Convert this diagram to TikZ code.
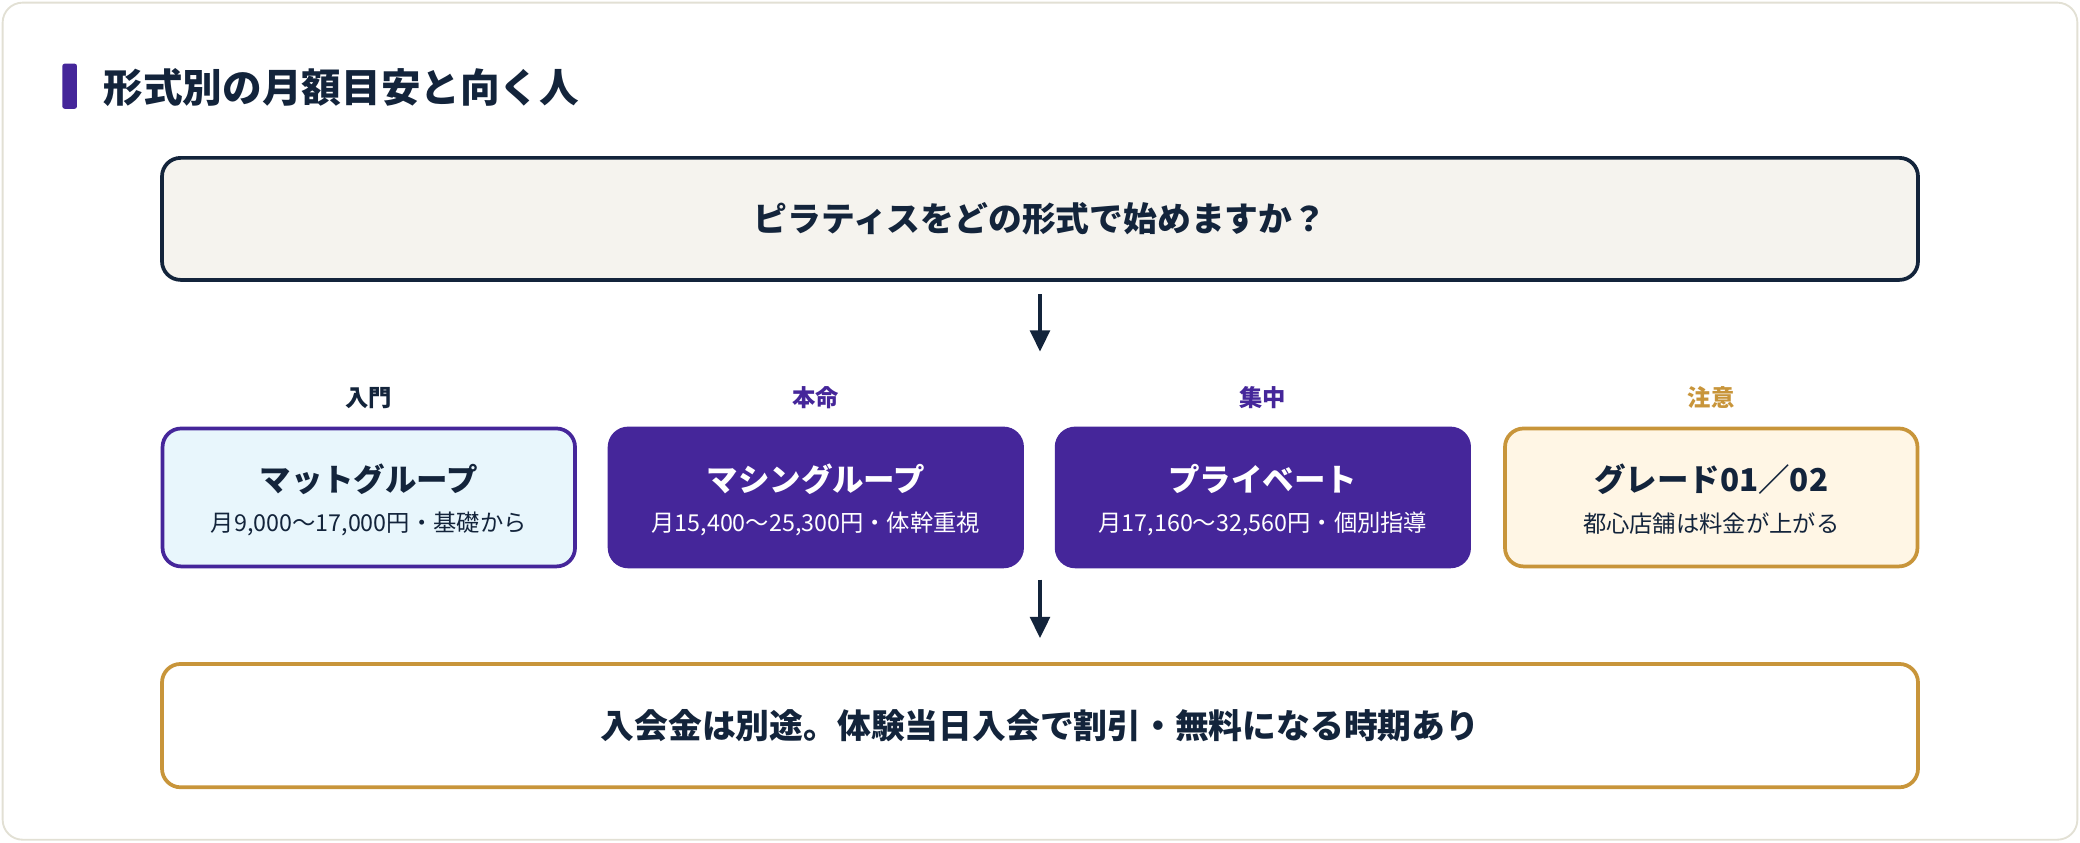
\documentclass[tikz,border=0pt]{standalone}
\usepackage{fontspec}
\setmainfont{Noto Sans CJK JP}
\usetikzlibrary{arrows.meta,positioning}
\definecolor{navy}{HTML}{13243B}
\definecolor{violet}{HTML}{45269A}
\definecolor{gold}{HTML}{C8953A}
\definecolor{paper}{HTML}{F5F3EE}
\definecolor{icy}{HTML}{E8F6FC}
\definecolor{cream}{HTML}{FFF6E5}
\definecolor{edge}{HTML}{E2E0D4}

\begin{document}
\begin{tikzpicture}[x=0.02cm,y=-0.02cm,
  panel/.style={draw, line width=1.6pt, rounded corners=0.28cm, inner sep=0pt},
  plan/.style={panel, minimum width=6.22cm, minimum height=2.08cm},
  tag/.style={font=\fontsize{10}{12}\selectfont\bfseries},
  head/.style={font=\fontsize{13.5}{16}\selectfont\bfseries},
  note/.style={font=\fontsize{10}{12}\selectfont},
  flow/.style={navy, line width=1.4pt, -{Triangle[length=0.32cm,width=0.3cm]}}]

  \useasboundingbox (0,0) rectangle (1568,635);

  % frame
  \draw[edge, fill=white, line width=0.8pt, rounded corners=0.3cm] (2,2) rectangle (1566,633);

  % title
  \fill[violet, rounded corners=1pt] (47,48) rectangle (58,82);
  \node[anchor=west, navy, font=\fontsize{17}{20}\selectfont\bfseries] (title) at (72,66) {形式別の月額目安と向く人};

  % question
  \node[panel, draw=navy, fill=paper, minimum width=26.48cm, minimum height=1.84cm,
    text=navy, font=\fontsize{14.5}{17}\selectfont\bfseries] (ask) at (784,165)
    {ピラティスをどの形式で始めますか？};

  % plans
  \node[plan, draw=violet, fill=icy] (mat) at (278,375) {};
  \node[plan, draw=violet, fill=violet] (machine) at (615,375) {};
  \node[plan, draw=violet, fill=violet] (private) at (952,375) {};
  \node[plan, draw=gold, fill=cream] (grade) at (1290,375) {};

  \node[tag, navy] (t1) at (278,300) {入門};
  \node[tag, violet] (t2) at (615,300) {本命};
  \node[tag, violet] (t3) at (952,300) {集中};
  \node[tag, gold] (t4) at (1290,300) {注意};

  \node[head, navy] (h1) at (278,361) {マットグループ};
  \node[note, navy] (n1) at (278,395) {月9,000〜17,000円・基礎から};
  \node[head, white] (h2) at (615,361) {マシングループ};
  \node[note, white] (n2) at (615,395) {月15,400〜25,300円・体幹重視};
  \node[head, white] (h3) at (952,361) {プライベート};
  \node[note, white] (n3) at (952,395) {月17,160〜32,560円・個別指導};
  \node[head, navy] (h4) at (1290,361) {グレード01／02};
  \node[note, navy] (n4) at (1290,395) {都心店舗は料金が上がる};

  % fee
  \node[panel, draw=gold, fill=white, minimum width=26.48cm, minimum height=1.86cm,
    text=navy, font=\fontsize{14.5}{17}\selectfont\bfseries] (fee) at (784,547)
    {入会金は別途。体験当日入会で割引・無料になる時期あり};

  % arrows
  \coordinate (a1) at (784,222);
  \coordinate (a2) at (784,265);
  \coordinate (b1) at (784,437);
  \coordinate (b2) at (784,481);
  \draw[flow] (a1) -- (a2);
  \draw[flow] (b1) -- (b2);

\end{tikzpicture}
\end{document}
